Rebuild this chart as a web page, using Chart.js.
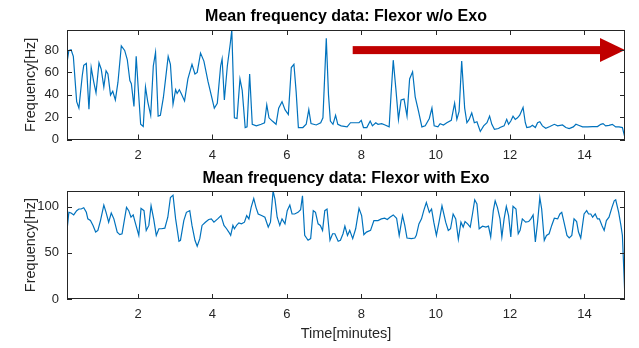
<!DOCTYPE html>
<html>
<head>
<meta charset="utf-8">
<script src="https://cdn.jsdelivr.net/npm/chart.js@4.4.0/dist/chart.umd.min.js"></script>
<style>
  body { margin: 0; background: #fff; }
  #quadro { position: relative; width: 639px; height: 348px; }
  canvas { position: absolute; left: 0; }
</style>
</head>
<body>
<div id="quadro">
  <canvas id="graficoSemExo" width="639" height="165" style="top:0px"></canvas>
  <canvas id="graficoComExo" width="639" height="183" style="top:165px"></canvas>
</div>
<script>
// valores (tempo em minutos, frequencia em Hz)
const tempoSemExo = [0.09,0.14,0.20,0.26,0.35,0.41,0.50,0.54,0.61,0.68,0.74,0.81,0.87,0.95,1.01,1.08,1.14,1.19,1.26,1.32,
  1.39,1.46,1.55,1.64,1.71,1.78,1.82,1.89,1.95,2.00,2.07,2.14,2.20,2.26,2.34,2.41,2.47,2.54,2.60,2.68,
  2.74,2.81,2.87,2.94,3.01,3.05,3.11,3.16,3.25,3.34,3.45,3.53,3.59,3.68,3.77,3.88,4.05,4.13,4.22,4.26,
  4.32,4.40,4.48,4.52,4.59,4.66,4.74,4.80,4.88,4.93,5.00,5.07,5.18,5.31,5.40,5.46,5.52,5.61,5.71,5.78,
  5.87,5.95,6.04,6.12,6.19,6.25,6.31,6.43,6.52,6.59,6.65,6.79,6.91,6.97,7.06,7.12,7.17,7.24,7.31,7.37,
  7.46,7.62,7.71,7.82,7.94,8.00,8.06,8.15,8.24,8.30,8.39,8.45,8.55,8.64,8.75,8.80,8.86,8.93,9.00,9.07,
  9.15,9.23,9.30,9.38,9.45,9.54,9.63,9.72,9.83,9.90,9.96,10.06,10.12,10.21,10.30,10.42,10.51,10.57,10.63,10.70,
  10.78,10.84,10.90,10.97,11.04,11.11,11.20,11.29,11.38,11.45,11.51,11.58,11.69,11.73,11.84,11.91,11.96,12.02,12.08,12.14,
  12.20,12.26,12.35,12.41,12.45,12.54,12.60,12.68,12.74,12.80,12.87,12.96,13.07,13.19,13.28,13.41,13.50,13.59,13.70,13.77,
  13.84,13.95,14.08,14.22,14.35,14.44,14.50,14.57,14.66,14.75,14.84,14.93,15.02,15.09];
const freqSemExo = [68.7,79.7,80.3,74.5,33.9,28.1,57.1,66.4,68.1,27.2,64.4,51.3,41.7,68.7,62.9,47.0,61.5,58.6,39.7,43.2,
  35.4,51.3,83.8,79.7,71.6,52.8,49.9,29.6,74.5,48.4,13.6,11.6,47.0,33.9,21.7,65.8,78.0,20.9,21.7,37.4,
  54.2,74.5,67.3,31.6,44.6,41.2,44.6,41.2,34.5,54.2,67.3,58.6,60.0,77.4,70.2,52.0,28.0,32.5,65.8,72.2,
  35.4,65.8,86.1,98.0,19.4,18.8,54.2,44.0,10.7,11.3,58.6,13.6,12.2,13.6,15.0,31.0,19.4,16.5,13.6,28.1,
  33.9,26.7,22.3,64.4,67.3,42.6,10.7,10.7,13.6,26.7,14.2,13.0,15.0,19.4,90.5,39.7,16.5,13.6,21.7,13.6,
  12.2,11.3,15.0,15.0,15.0,17.1,10.7,10.7,16.5,12.2,15.0,13.6,14.2,13.0,11.3,39.7,71.0,45.5,18.0,35.4,
  36.2,20.9,54.2,60.6,38.2,25.2,11.3,12.2,18.8,28.1,12.2,11.3,14.2,13.0,15.0,17.1,32.5,18.0,25.2,70.2,
  28.1,15.0,18.0,23.8,15.0,15.9,7.2,12.2,15.0,20.9,13.6,9.2,9.8,10.7,12.2,18.0,13.6,16.5,20.9,18.0,
  19.4,21.7,28.7,15.0,10.7,11.3,12.7,10.7,15.0,15.9,12.2,10.1,11.6,13.6,12.2,13.0,10.7,9.8,11.3,13.6,
  12.7,11.3,11.3,11.6,11.6,13.6,14.2,12.2,12.7,13.6,11.3,11.3,10.7,1.5];

const tempoComExo = [0.09,0.14,0.20,0.27,0.35,0.41,0.47,0.54,0.61,0.65,0.72,0.79,0.86,0.92,0.99,1.08,1.14,1.21,1.28,1.35,
  1.44,1.51,1.57,1.69,1.75,1.81,1.87,1.91,2.02,2.08,2.16,2.22,2.29,2.35,2.42,2.49,2.56,2.63,2.72,2.80,
  2.87,2.94,3.01,3.10,3.14,3.23,3.30,3.39,3.45,3.53,3.59,3.66,3.72,3.81,3.90,3.97,4.04,4.14,4.23,4.31,
  4.38,4.44,4.49,4.55,4.59,4.66,4.71,4.78,4.86,4.92,4.98,5.04,5.11,5.17,5.23,5.32,5.41,5.50,5.56,5.63,
  5.68,5.74,5.81,5.87,5.95,6.01,6.08,6.14,6.21,6.30,6.37,6.42,6.48,6.57,6.64,6.71,6.77,6.84,6.90,6.96,
  7.02,7.08,7.16,7.23,7.29,7.38,7.44,7.51,7.56,7.63,7.69,7.77,7.85,7.94,8.01,8.07,8.14,8.25,8.34,8.45,
  8.54,8.63,8.70,8.77,8.86,8.95,9.02,9.11,9.17,9.23,9.35,9.44,9.48,9.55,9.62,9.68,9.75,9.83,9.89,9.95,
  10.02,10.09,10.17,10.27,10.34,10.40,10.47,10.54,10.61,10.68,10.74,10.79,10.86,10.93,10.99,11.05,11.11,11.17,11.26,11.35,
  11.42,11.48,11.55,11.60,11.66,11.73,11.78,11.84,11.90,11.96,12.02,12.08,12.16,12.22,12.27,12.33,12.42,12.50,12.56,12.62,
  12.68,12.74,12.80,12.85,12.92,12.98,13.05,13.12,13.19,13.28,13.34,13.39,13.45,13.53,13.59,13.66,13.72,13.79,13.84,13.90,
  13.99,14.06,14.11,14.17,14.22,14.29,14.35,14.40,14.47,14.53,14.59,14.66,14.74,14.80,14.84,14.92,14.98,15.02,15.09];
const freqComExo = [74.3,93.9,93.2,91.1,95.7,97.5,97.5,98.9,93.9,86.8,85.0,79.7,72.5,74.3,85.0,101.8,93.9,83.2,93.2,86.8,
  72.5,69.7,70.7,99.3,95.7,88.6,91.1,85.0,68.9,98.2,95.7,74.3,79.7,101.1,86.8,68.9,76.1,76.1,76.8,88.6,
  110.0,112.5,86.8,62.5,63.6,85.0,93.9,95.7,79.7,63.6,57.2,65.4,79.7,83.2,86.1,86.8,83.2,86.8,90.4,79.7,
  76.1,72.5,68.9,79.7,76.1,80.4,82.5,81.4,83.2,90.4,86.8,99.3,108.9,99.3,92.1,90.4,88.6,77.9,83.2,117.0,
  108.2,88.6,79.7,86.8,81.4,95.7,101.8,92.1,92.1,93.9,96.8,111.8,68.9,63.6,65.4,95.7,93.9,81.4,79.7,74.3,
  95.7,97.5,63.6,70.7,70.7,62.5,63.6,70.7,78.9,68.9,74.3,65.4,76.1,98.2,90.4,69.7,72.5,74.3,85.0,85.0,
  86.8,87.5,86.1,88.6,91.1,87.5,68.9,90.4,79.7,66.1,65.4,66.1,68.9,81.4,86.8,95.7,104.6,93.9,97.5,83.2,
  68.9,83.2,101.0,83.2,74.3,76.1,92.1,86.8,64.7,83.2,77.9,83.9,81.4,77.9,92.1,107.5,102.9,76.1,78.9,77.9,
  78.9,67.2,95.7,106.4,99.3,86.8,67.2,86.8,100.4,90.4,67.2,100.4,97.5,70.7,74.3,86.8,83.2,83.9,86.8,91.1,
  61.8,83.2,110.0,97.5,63.6,68.9,70.7,79.7,87.5,86.8,92.1,93.9,83.2,68.9,66.1,68.9,86.8,83.9,72.5,66.1,
  92.1,95.7,92.1,92.1,88.6,92.1,86.8,86.8,79.7,74.3,85.0,88.6,99.3,106.4,107.5,93.9,79.7,68.9,0.0];

const ticksTempo = [2, 4, 6, 8, 10, 12, 14];
const ticksSemExo = [0, 20, 40, 60, 80];
const ticksComExo = [0, 50, 100];
const tempoMin = 0.09, tempoMax = 15.09;
const maxSemExo = 98, maxComExo = 117;
// seta vermelha no grafico de cima (em unidades dos eixos)
const seta = { inicio: 7.77, fim: 15.09, nivel: 80 };

const azul = '#0072BD';
const cinza = '#262626';
const fonte = "'Liberation Sans', Arial, sans-serif";

function pontos(tempos, valores) {
  return tempos.map((t, i) => ({ x: t, y: valores[i] }));
}

// caixa do eixo com marcas para dentro, estilo matlab
const moldura = {
  id: 'moldura',
  afterDraw(chart) {
    const { ctx, chartArea: a, scales } = chart;
    ctx.save();
    ctx.strokeStyle = cinza;
    ctx.lineWidth = 1;
    ctx.beginPath();
    scales.x.ticks.forEach(t => {
      const px = Math.round(scales.x.getPixelForValue(t.value)) + 0.5;
      ctx.moveTo(px, a.bottom); ctx.lineTo(px, a.bottom - 5);
      ctx.moveTo(px, a.top); ctx.lineTo(px, a.top + 5);
    });
    scales.y.ticks.forEach(t => {
      const py = Math.round(scales.y.getPixelForValue(t.value)) + 0.5;
      ctx.moveTo(a.left, py); ctx.lineTo(a.left + 5, py);
      ctx.moveTo(a.right, py); ctx.lineTo(a.right - 5, py);
    });
    ctx.stroke();
    ctx.strokeRect(Math.round(a.left) + 0.5, Math.round(a.top) + 0.5,
      Math.round(a.width) - 1, Math.round(a.height) - 1);
    ctx.restore();
  }
};

// titulo centrado sobre a area do grafico (e nao sobre o canvas todo)
const tituloCentrado = {
  id: 'tituloCentrado',
  afterDraw(chart, args, opts) {
    const { ctx, chartArea: a } = chart;
    ctx.save();
    ctx.font = 'bold 16px ' + fonte;
    ctx.fillStyle = '#000';
    ctx.textAlign = 'center';
    ctx.textBaseline = 'middle';
    ctx.fillText(opts.texto, (a.left + a.right) / 2, opts.y);
    ctx.restore();
  }
};

const setaVermelha = {
  id: 'setaVermelha',
  afterDatasetsDraw(chart) {
    const { ctx, scales: { x, y } } = chart;
    const x0 = x.getPixelForValue(seta.inicio);
    const x1 = x.getPixelForValue(seta.fim);
    const yc = y.getPixelForValue(seta.nivel);
    ctx.save();
    ctx.fillStyle = '#C00000';
    ctx.fillRect(x0, yc - 4, x1 - 25 - x0, 8);
    ctx.beginPath();
    ctx.moveTo(x1 - 25, yc - 12);
    ctx.lineTo(x1, yc);
    ctx.lineTo(x1 - 25, yc + 12);
    ctx.closePath();
    ctx.fill();
    ctx.restore();
  }
};

function criaGrafico(canvas, tempos, valores, titulo, maxY, ticksY, extra) {
  return new Chart(canvas, {
    type: 'line',
    data: {
      datasets: [{
        data: pontos(tempos, valores),
        borderColor: azul,
        borderWidth: 1.2,
        pointRadius: 0,
        fill: false,
        tension: 0
      }]
    },
    options: {
      responsive: false,
      animation: false,
      layout: { padding: { left: 0, right: 14, top: extra.topo, bottom: 0 } },
      plugins: {
        legend: { display: false },
        tooltip: { enabled: false },
        tituloCentrado: { texto: titulo, y: extra.yTitulo }
      },
      scales: {
        x: {
          type: 'linear',
          min: tempoMin,
          max: tempoMax,
          afterBuildTicks: s => { s.ticks = ticksTempo.map(v => ({ value: v })); },
          ticks: { color: cinza, font: { family: fonte, size: 13 }, padding: 8, maxRotation: 0, autoSkip: false },
          grid: { display: false, drawTicks: false },
          border: { display: false },
          title: extra.tituloX,
          afterFit: s => { s.height = extra.alturaX; }
        },
        y: {
          min: 0,
          max: maxY,
          afterBuildTicks: s => { s.ticks = ticksY.map(v => ({ value: v })); },
          ticks: { color: cinza, font: { family: fonte, size: 13 }, padding: 8 },
          grid: { display: false, drawTicks: false },
          border: { display: false },
          title: {
            display: true,
            text: 'Frequency[Hz]',
            color: cinza,
            font: { family: fonte, size: 14.5 },
            padding: { top: 22, bottom: 0 }
          },
          afterFit: s => { s.width = 67; }
        }
      }
    },
    plugins: extra.plugins
  });
}

criaGrafico(document.getElementById('graficoSemExo'), tempoSemExo, freqSemExo,
  'Mean frequency data: Flexor w/o Exo', maxSemExo, ticksSemExo, {
    topo: 30,
    yTitulo: 17,
    alturaX: 25.5,
    tituloX: { display: false },
    plugins: [moldura, setaVermelha, tituloCentrado]
  });

criaGrafico(document.getElementById('graficoComExo'), tempoComExo, freqComExo,
  'Mean frequency data: Flexor with Exo', maxComExo, ticksComExo, {
    topo: 26,
    yTitulo: 14,
    alturaX: 49,
    tituloX: {
      display: true,
      text: 'Time[minutes]',
      color: cinza,
      font: { family: fonte, size: 14.5 },
      padding: { top: 0, bottom: 5.3 }
    },
    plugins: [moldura, tituloCentrado]
  });
</script>
</body>
</html>
